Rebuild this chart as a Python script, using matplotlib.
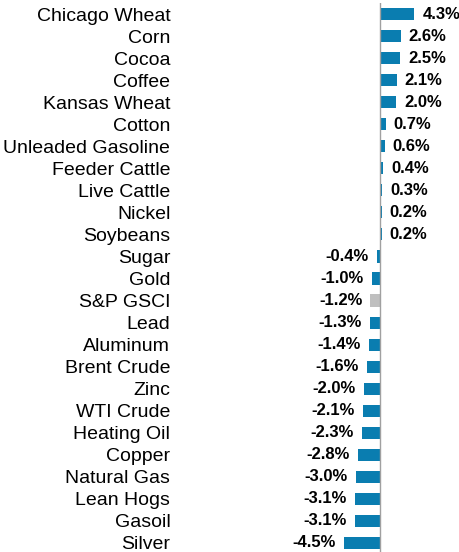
import matplotlib
matplotlib.use("Agg")
import matplotlib.pyplot as plt

# commodity returns (%)
names = ['Chicago Wheat', 'Corn', 'Cocoa', 'Coffee', 'Kansas Wheat', 'Cotton',
         'Unleaded Gasoline', 'Feeder Cattle', 'Live Cattle', 'Nickel', 'Soybeans',
         'Sugar', 'Gold', 'S&P GSCI', 'Lead', 'Aluminum', 'Brent Crude', 'Zinc',
         'WTI Crude', 'Heating Oil', 'Copper', 'Natural Gas', 'Lean Hogs',
         'Gasoil', 'Silver']
returns = [4.3, 2.6, 2.5, 2.1, 2.0, 0.7, 0.6, 0.4, 0.3, 0.2, 0.2,
           -0.4, -1.0, -1.2, -1.3, -1.4, -1.6, -2.0, -2.1, -2.3, -2.8,
           -3.0, -3.1, -3.1, -4.5]
index_name = 'S&P GSCI'

plt.rcParams['font.family'] = ['Liberation Sans', 'DejaVu Sans']

fig = plt.figure(figsize=(4.6, 5.52), dpi=100)
ax = fig.add_axes([180 / 460, 0.0, 280 / 460, 549 / 552])

colors = ['#BFBFBF' if n == index_name else '#0A7DB0' for n in names]
y = list(range(len(names)))
ax.barh(y, returns, height=0.55, color=colors)

for i, v in enumerate(returns):
    if v >= 0:
        ax.annotate('%.1f%%' % v, (v, i), xytext=(8, 0), textcoords='offset pixels',
                    ha='left', va='center', fontsize=12, fontweight='bold')
    else:
        ax.annotate('%.1f%%' % v, (v, i), xytext=(-8, 0), textcoords='offset pixels',
                    ha='right', va='center', fontsize=12, fontweight='bold')

ax.axvline(0, color='#A0A0A0', lw=1)
ax.set_xlim(-25, 10)
ax.set_ylim(24.41, -0.5)
ax.set_yticks(y)
ax.set_yticklabels(names, fontsize=14)
ax.tick_params(axis='y', length=0, pad=7)
ax.set_xticks([])
for s in ax.spines.values():
    s.set_visible(False)

fig.savefig('out.png', dpi=100)
